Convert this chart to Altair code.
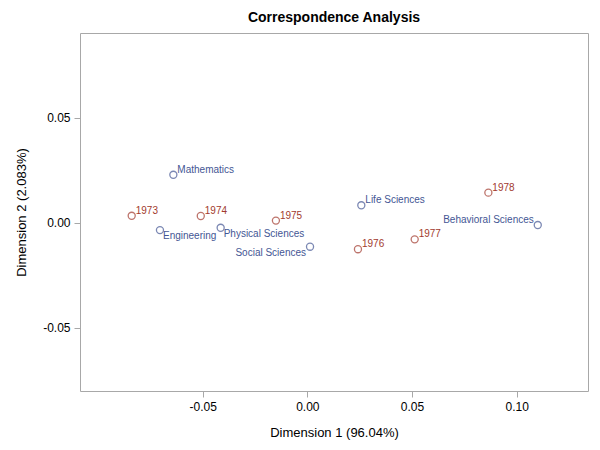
import altair as alt
import pandas as pd

# Row points (years) and column points (fields)
years = ["1973", "1974", "1975", "1976", "1977", "1978"]
year_dim1 = [-0.0839, -0.0509, -0.0150, 0.0242, 0.0513, 0.0865]
year_dim2 = [0.0033, 0.0032, 0.0010, -0.0126, -0.0079, 0.0143]

fields = ["Mathematics", "Engineering", "Physical Sciences", "Social Sciences",
          "Life Sciences", "Behavioral Sciences"]
field_dim1 = [-0.0640, -0.0704, -0.0414, 0.0013, 0.0258, 0.1101]
field_dim2 = [0.0228, -0.0035, -0.0024, -0.0114, 0.0083, -0.0011]

# label placement relative to marker
placement = {
    "Mathematics": "ur", "Engineering": "lr", "Physical Sciences": "lr",
    "Social Sciences": "ll", "Life Sciences": "ur", "Behavioral Sciences": "ul",
}

rows = []
for n, a, b in zip(years, year_dim1, year_dim2):
    rows.append({"name": n, "d1": a, "d2": b, "type": "Row", "pos": "ur"})
for n, a, b in zip(fields, field_dim1, field_dim2):
    rows.append({"name": n, "d1": a, "d2": b, "type": "Column", "pos": placement[n]})
df = pd.DataFrame(rows)

FONT = "Liberation Sans"
BLUE = "#445694"
RED = "#A23A2E"

xscale = alt.Scale(domain=[-0.1086, 0.1341], nice=False, zero=False)
yscale = alt.Scale(domain=[-0.0800, 0.0902], nice=False, zero=False)
color = alt.Color("type:N", scale=alt.Scale(domain=["Row", "Column"], range=[RED, BLUE]), legend=None)

label_expr = "replace(format(datum.value, '.2f'), '\u2212', '-')"
x = alt.X("d1:Q", scale=xscale, title="Dimension 1 (96.04%)",
          axis=alt.Axis(values=[-0.05, 0.0, 0.05, 0.10], labelExpr=label_expr, titlePadding=14))
y = alt.Y("d2:Q", scale=yscale, title="Dimension 2 (2.083%)",
          axis=alt.Axis(values=[-0.05, 0.0, 0.05], labelExpr=label_expr, titlePadding=14))

base = alt.Chart(df)
points = base.mark_point(shape="circle", filled=False, size=50, strokeWidth=1.3).encode(
    x=x, y=y, color=color)

def labels(pos, align, dx, dy):
    return base.transform_filter(alt.datum.pos == pos).mark_text(
        align=align, baseline="middle", dx=dx, dy=dy, font=FONT, fontSize=10
    ).encode(x=x, y=y, text="name:N", color=color)

chart = alt.layer(
    points,
    labels("ur", "left", 4, -5),
    labels("lr", "left", 3, 6),
    labels("ll", "right", -4, 6),
    labels("ul", "right", -4, -5),
).properties(
    width=508, height=358,
    title=alt.TitleParams("Correspondence Analysis", font=FONT, fontSize=14,
                          fontWeight="bold", anchor="middle", color="black", offset=8),
    autosize=alt.AutoSizeParams(type="none"),
    padding={"left": 72, "top": 25, "right": 4, "bottom": 50},
).configure_view(
    stroke="#A8A8A8", strokeWidth=1
).configure_axis(
    grid=False, domain=False, tickColor="#A8A8A8", tickSize=6,
    labelFont=FONT, labelFontSize=12, labelColor="black", labelPadding=4,
    titleFont=FONT, titleFontSize=13, titleFontWeight="normal", titleColor="black",
)

chart.save("out.html", embed_options={"renderer": "svg", "actions": False})
